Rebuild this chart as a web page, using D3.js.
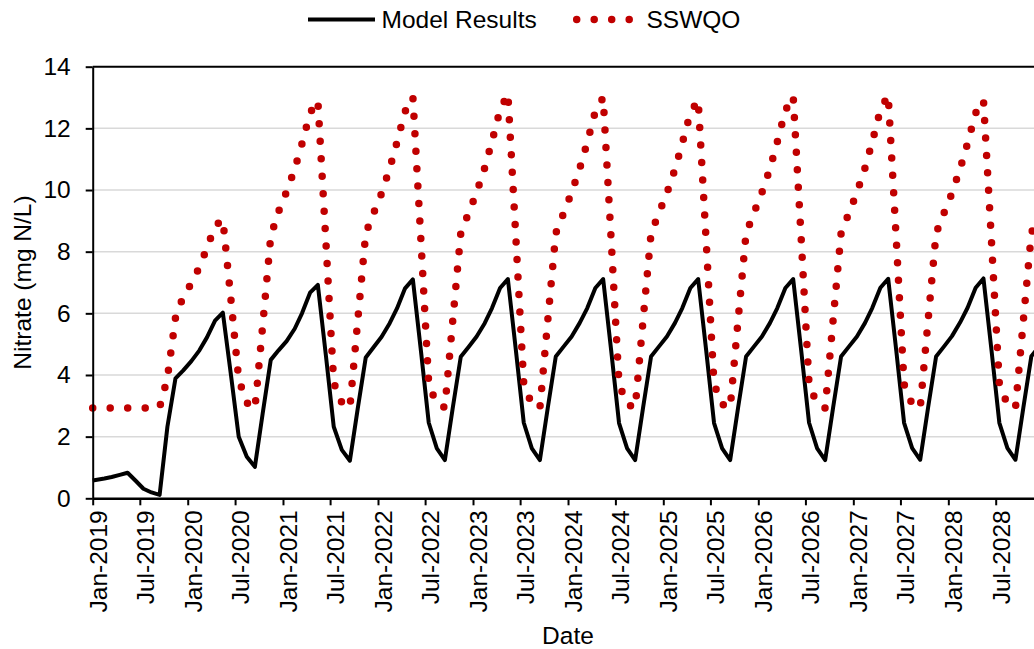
<!DOCTYPE html>
<html>
<head>
<meta charset="utf-8">
<script src="https://cdn.jsdelivr.net/npm/d3@7"></script>
<style>
  html, body { margin: 0; padding: 0; background: #fff; }
  svg text { font-family: "Liberation Sans", Arial, sans-serif; fill: #000; }
</style>
</head>
<body>
<svg id="chart" width="1034" height="649"></svg>
<script>
// Record starts 1 Jan 2019; afterwards one value per month (mid-month), Feb 2019 .. Jan 2029
const recordStart = "2019-01-01";
const firstMonthly = "2019-02-15";
const monthCount = 120;

// Modelled nitrate (mg N/L)
const modelValues = [
  0.58, 0.64, 0.69, 0.76, 0.83, 0.57, 0.31, 0.19, 0.11, 2.32, 3.89, 4.15,   // 2019
  4.45, 4.80, 5.22, 5.76, 6.02, 4.01, 2.00, 1.35, 1.02, 2.75, 4.49, 4.80,   // 2020
  5.10, 5.50, 6.00, 6.67, 6.92, 4.62, 2.32, 1.57, 1.22, 2.90, 4.57, 4.90,   // 2021
  5.24, 5.68, 6.16, 6.81, 7.10, 4.78, 2.45, 1.62, 1.24, 2.92, 4.59, 4.91,   // 2022
  5.25, 5.68, 6.17, 6.82, 7.11, 4.78, 2.45, 1.62, 1.24, 2.92, 4.60, 4.92,   // 2023
  5.25, 5.69, 6.17, 6.82, 7.11, 4.78, 2.44, 1.62, 1.24, 2.92, 4.60, 4.92,   // 2024
  5.25, 5.69, 6.17, 6.82, 7.11, 4.78, 2.44, 1.62, 1.24, 2.92, 4.60, 4.92,   // 2025
  5.25, 5.69, 6.17, 6.82, 7.11, 4.78, 2.45, 1.62, 1.24, 2.92, 4.60, 4.92,   // 2026
  5.25, 5.69, 6.18, 6.83, 7.12, 4.79, 2.45, 1.63, 1.25, 2.93, 4.60, 4.92,   // 2027
  5.26, 5.70, 6.18, 6.83, 7.13, 4.79, 2.45, 1.63, 1.25, 2.93, 4.61, 4.93,   // 2028
  5.26                                                                      // 2029
];

// Site-specific water quality objective (mg N/L)
const sswqoValues = [
  2.93, 2.93, 2.93, 2.93, 2.93, 2.93, 2.93, 2.93, 2.95, 3.90, 5.85, 6.55,   // 2019
  6.97, 7.50, 8.12, 8.83, 9.05, 6.45, 3.85, 3.10, 2.90, 5.60, 8.50, 9.30,   // 2020
  9.95, 10.68, 11.50, 12.50, 12.90, 8.30, 3.75, 3.10, 2.93, 5.75, 8.60, 9.25, // 2021
  9.90, 10.70, 11.55, 12.55, 13.02, 8.35, 3.70, 3.05, 2.95, 5.75, 8.60, 9.25, // 2022
  9.92, 10.72, 11.58, 12.60, 13.13, 8.40, 3.70, 3.05, 2.93, 5.75, 8.60, 9.25, // 2023
  9.92, 10.70, 11.55, 12.55, 13.00, 8.35, 3.70, 3.05, 2.93, 5.75, 8.60, 9.25, // 2024
  9.90, 10.68, 11.52, 12.50, 12.92, 8.30, 3.70, 3.05, 2.93, 5.75, 8.60, 9.25, // 2025
  9.92, 10.70, 11.56, 12.58, 13.05, 8.38, 3.70, 3.05, 2.93, 5.75, 8.60, 9.25, // 2026
  9.92, 10.72, 11.57, 12.60, 13.08, 8.40, 3.70, 3.05, 2.93, 5.75, 8.60, 9.25, // 2027
  9.90, 10.68, 11.52, 12.50, 12.92, 8.30, 3.70, 3.05, 2.93, 5.75, 8.60, 9.25, // 2028
  9.90                                                                        // 2029
];

const yTicks = [0, 2, 4, 6, 8, 10, 12, 14];
const xTickStart = "2019-01-01";
const xTickEnd = "2029-01-01";
const seriesNames = ["Model Results", "SSWQO"];
const xTitle = "Date";
const yTitle = "Nitrate (mg N/L)";

// ---- build ----
const parse = d3.utcParse("%Y-%m-%d");
const dates = [parse(recordStart)].concat(
  d3.range(monthCount).map(i => d3.utcMonth.offset(parse(firstMonthly), i))
);
const modelData = dates.map((d, i) => ({ date: d, value: modelValues[i] }));
const sswqoData = dates.map((d, i) => ({ date: d, value: sswqoValues[i] }));

const svg = d3.select("#chart");
const W = 1034, H = 649;
const FONT = 24.5;
svg.append("rect").attr("width", W).attr("height", H).attr("fill", "#fff");

const plot = { left: 92.7, top: 66.7, bottom: 498.3, right: 1043.6 };

const x = d3.scaleUtc()
  .domain([parse(xTickStart), parse(xTickEnd)])
  .range([plot.left, plot.right]);
const y = d3.scaleLinear().domain([0, 14]).range([plot.bottom, plot.top]);

// horizontal gridlines
svg.append("g")
  .selectAll("line")
  .data(yTicks.filter(v => v > 0 && v < 14))
  .join("line")
  .attr("x1", plot.left).attr("x2", plot.right)
  .attr("y1", d => y(d)).attr("y2", d => y(d))
  .attr("stroke", "#d9d9d9").attr("stroke-width", 1.5);

// top border of the plot area
svg.append("line")
  .attr("x1", plot.left).attr("x2", plot.right)
  .attr("y1", y(14)).attr("y2", y(14))
  .attr("stroke", "#000").attr("stroke-width", 2);

const line = d3.line().x(d => x(d.date)).y(d => y(d.value));

svg.append("path")
  .datum(modelData)
  .attr("d", line)
  .attr("fill", "none")
  .attr("stroke", "#000")
  .attr("stroke-width", 4)
  .attr("stroke-linejoin", "round");

svg.append("path")
  .datum(sswqoData)
  .attr("d", line)
  .attr("fill", "none")
  .attr("stroke", "#c00000")
  .attr("stroke-width", 7.5)
  .attr("stroke-linecap", "round")
  .attr("stroke-dasharray", "0 17.5");

// axes
const fmt = d3.utcFormat("%b-%Y");
const xTickValues = d3.utcMonth.every(6).range(parse(xTickStart), parse(xTickEnd));

const xAxis = svg.append("g")
  .attr("transform", `translate(0,${plot.bottom})`)
  .call(d3.axisBottom(x).tickValues(xTickValues).tickFormat(fmt).tickSize(7).tickSizeOuter(0));
xAxis.select(".domain").attr("stroke", "#000").attr("stroke-width", 2.5);
xAxis.selectAll(".tick line").attr("stroke", "#000").attr("stroke-width", 2);
xAxis.selectAll(".tick text")
  .attr("transform", "rotate(-90)")
  .attr("text-anchor", "end")
  .attr("x", -12)
  .attr("y", 13.5)
  .attr("dy", "0")
  .attr("font-size", FONT);

const yAxis = svg.append("g")
  .attr("transform", `translate(${plot.left},0)`)
  .call(d3.axisLeft(y).tickValues(yTicks).tickSize(7).tickPadding(15).tickSizeOuter(0));
yAxis.select(".domain").attr("stroke", "#000").attr("stroke-width", 2);
yAxis.selectAll(".tick line").attr("stroke", "#000").attr("stroke-width", 2);
yAxis.selectAll(".tick text").attr("font-size", FONT);

// axis titles
svg.append("text")
  .attr("x", 568).attr("y", 644)
  .attr("text-anchor", "middle")
  .attr("font-size", FONT)
  .text(xTitle);

svg.append("text")
  .attr("transform", `translate(31,${(plot.top + plot.bottom) / 2}) rotate(-90)`)
  .attr("text-anchor", "middle")
  .attr("font-size", FONT)
  .text(yTitle);

// legend
const lg = svg.append("g");
lg.append("line")
  .attr("x1", 308).attr("x2", 375).attr("y1", 19.5).attr("y2", 19.5)
  .attr("stroke", "#000").attr("stroke-width", 4);
lg.append("text")
  .attr("x", 381.5).attr("y", 19.5).attr("dy", "0.35em")
  .attr("font-size", FONT)
  .text(seriesNames[0]);
lg.append("line")
  .attr("x1", 576.7).attr("x2", 629.3).attr("y1", 19.5).attr("y2", 19.5)
  .attr("stroke", "#c00000").attr("stroke-width", 7.5)
  .attr("stroke-linecap", "round").attr("stroke-dasharray", "0 17.5");
lg.append("text")
  .attr("x", 646.5).attr("y", 19.5).attr("dy", "0.35em")
  .attr("font-size", FONT)
  .text(seriesNames[1]);
</script>
</body>
</html>
